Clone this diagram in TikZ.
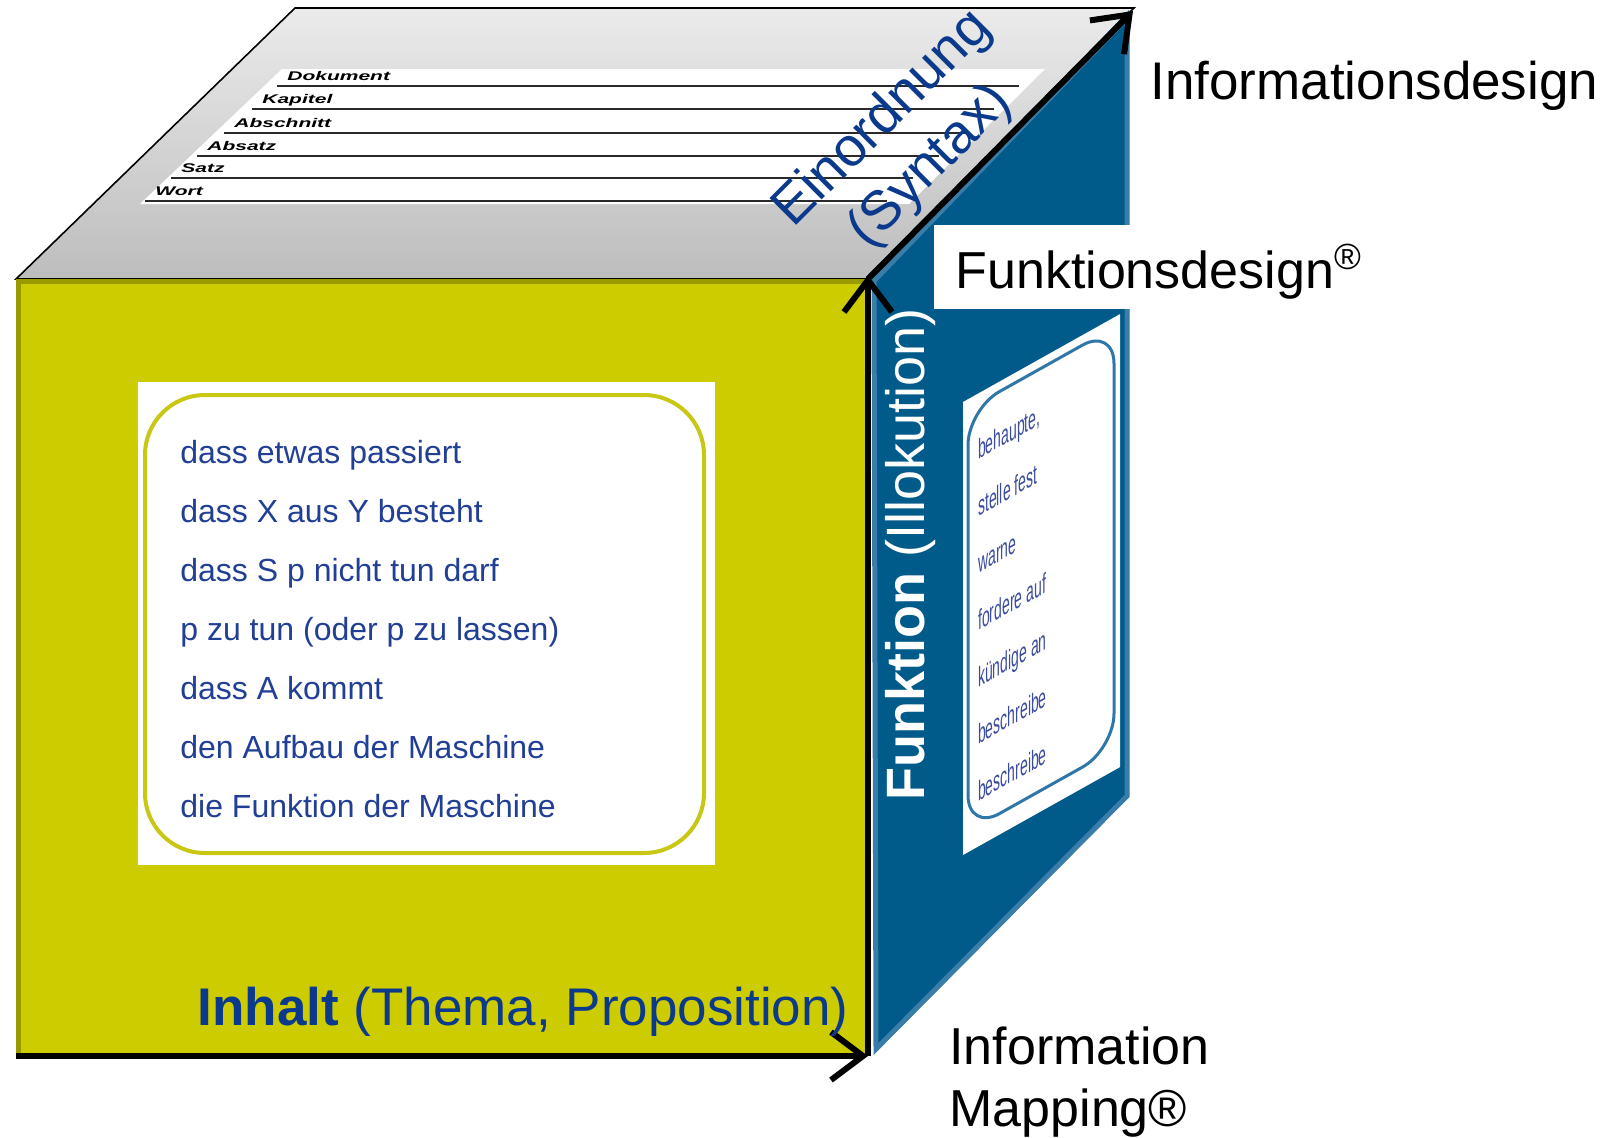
\documentclass[tikz,border=0pt]{standalone}
\usepackage{fontspec}
\setmainfont{Liberation Sans}
\usetikzlibrary{arrows.meta}

\definecolor{cubeyellow}{HTML}{CCCC00}
\definecolor{cubeolive}{HTML}{999900}
\definecolor{cubeblue}{HTML}{005A8A}
\definecolor{edgeblue}{HTML}{3A7DA8}
\definecolor{labelblue}{HTML}{0B3A8C}
\definecolor{listblue}{HTML}{213F95}
\definecolor{cardblue}{HTML}{3C4C9E}
\definecolor{cardline}{HTML}{2F77A8}
\definecolor{cardyellow}{HTML}{C8C814}
\definecolor{topgrayA}{HTML}{EBEBEB}
\definecolor{topgrayB}{HTML}{BDBDBD}
\definecolor{bandline}{HTML}{2A2A2A}

\tikzset{
  axisarrow/.style={line width=3pt, -{Straight Barb[length=16pt,width=24pt]}},
  bigtext/.style={font=\fontsize{26}{31}\selectfont, inner sep=0pt},
  listtext/.style={font=\fontsize{16}{19}\selectfont, text=listblue, inner sep=0pt, anchor=base west},
  cardtext/.style={font=\fontsize{14}{16}\selectfont, text=cardblue, inner sep=0pt, anchor=base west, xscale=0.5, transform shape},
  bandlabel/.style={font=\fontsize{10.5}{12}\selectfont\bfseries\itshape, inner sep=0pt, anchor=base west, yscale=0.6},
}

\begin{document}
\begin{tikzpicture}[x=0.5pt, y=-0.5pt]
\useasboundingbox (0,0) rectangle (1624,1137);
 % Ecken
  \coordinate (fbl) at (16,1056);
  \coordinate (ftl) at (16,279);
  \coordinate (ftr) at (868,279);
  \coordinate (fbr) at (868,1056);
  \coordinate (fup) at (868,275);
  \coordinate (btl) at (295,8);
  \coordinate (btr) at (1134,8);
  \coordinate (tip) at (1133,11);
 % Flaechen
  \shade[top color=topgrayA, bottom color=topgrayB, draw=black, line width=0.8pt]
    (ftl) -- (btl) -- (btr) -- (ftr) -- cycle;
  \fill[cubeblue] (872,279) -- (1129,10) -- (1129,797) -- (875,1053) -- cycle;
  \draw[edgeblue, line width=2.5pt] (874,281) -- (1127,18) -- (1127,796) -- (876,1049) -- cycle;
  \fill[cubeyellow] (ftl) rectangle (fbr);
  \draw[cubeolive, line width=2.5pt] (18.5,1056) -- (18.5,281.5) -- (866,281.5);
 % Band oben
  \fill[white] (282,69) -- (1045,69) -- (909,204) -- (140,204) -- cycle;
  \foreach \name/\yy/\xx in {Dokument/86/277, Kapitel/109/252, Abschnitt/133/224,
                             Absatz/156/197, Satz/178/171, Wort/201/145} {
    \draw[bandline, line width=1pt] (\xx,\yy) -- ++(742,0);
    \node[bandlabel] (band\name) at ({\xx+10},{\yy-6}) {\name};
  }
 % Karte vorn
  \fill[white] (138,382) rectangle (715,865);
  \draw[cardyellow, line width=2pt, rounded corners=30pt] (145,395) rectangle (704,853);
  \foreach \txt [count=\i from 0] in {dass etwas passiert, dass X aus Y besteht,
      dass S p nicht tun darf, p zu tun (oder p zu lassen), dass A kommt,
      den Aufbau der Maschine, die Funktion der Maschine}
    \node[listtext] (item\i) at (180,{463+59*\i}) {\txt};
 % Karte rechts
  \begin{scope}[shift={(963,402)}, yslant=0.56]
    \fill[white] (0,0) rectangle (157,453);
    \draw[cardline, line width=1.5pt, rounded corners=18pt] (5,10) rectangle (151,432);
    \foreach \txt [count=\i from 0] in {{behaupte,}, stelle fest, warne, fordere auf,
        kündige an, beschreibe, beschreibe}
      \node[cardtext] (act\i) at (15,{66+57*\i}) {\txt};
  \end{scope}
 % Pfeile
  \draw[axisarrow] (fbl) -- (fbr);
  \draw[axisarrow] (fbr) -- (fup);
  \draw[axisarrow] (ftr) -- (tip);
 % Texte
  \node[bigtext, font=\fontsize{27.5}{33.5}\selectfont, text=labelblue, align=center, rotate=45]
    (einordnung) at (907,143) {Einordnung\\(Syntax)};
  \node[bigtext, font=\fontsize{27}{31}\selectfont, text=white, rotate=90] (funktion) at (911,554)
    {\textbf{Funktion} (Illokution)};
  \node[bigtext, font=\fontsize{26.5}{31}\selectfont, text=labelblue, anchor=base east] (inhalt) at (849,1025)
    {\textbf{Inhalt} (Thema, Proposition)};
  \node[bigtext, font=\fontsize{26.5}{31}\selectfont, anchor=base west] (infodesign) at (1150,99)
    {Informationsdesign};
  \node[bigtext, anchor=west, fill=white, inner xsep=10.5pt, minimum height=42pt,
        text height=26pt, text depth=5pt] (fdesign) at (934,267) {Funktionsdesign\textsuperscript{®}};
  \node[bigtext, anchor=base west] (mapA) at (949,1064) {Information};
  \node[bigtext, anchor=base west] (mapB) at (949,1126) {Mapping®};
\end{tikzpicture}
\end{document}
